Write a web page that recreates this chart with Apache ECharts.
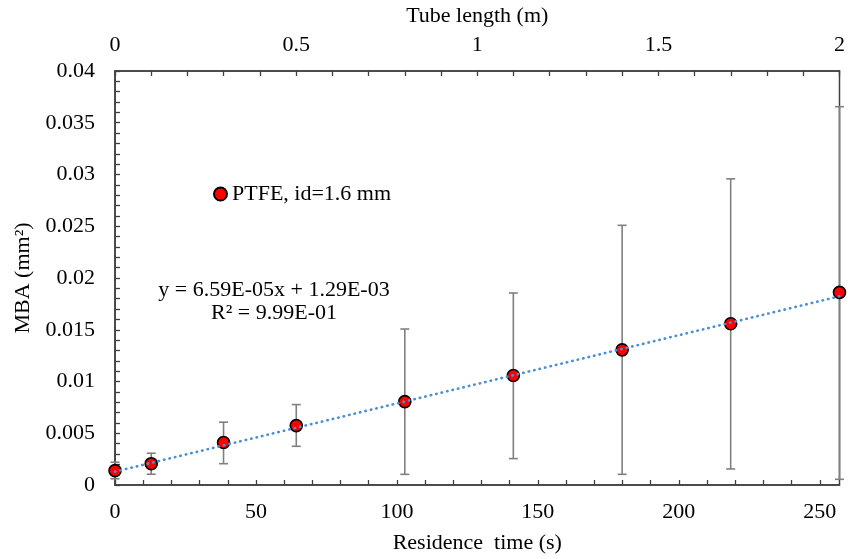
<!DOCTYPE html>
<html>
<head>
<meta charset="utf-8">
<script src="https://cdn.jsdelivr.net/npm/echarts@6/dist/echarts.min.js"></script>
<style>
html,body{margin:0;padding:0;background:#fff;}
#chart{width:848px;height:559px;}
</style>
</head>
<body>
<div id="chart"></div>
<script>
// Data
const residenceTime = [0, 12.85, 38.5, 64.3, 102.8, 141.3, 179.9, 218.4, 257];
const mba = [0.00139, 0.00206, 0.00410, 0.00574, 0.00806, 0.01058, 0.01306, 0.01558, 0.01861];
const errLow = [0.0006, 0.00104, 0.00206, 0.00374, 0.00103, 0.00255, 0.00103, 0.00155, 0.00055];
const errHigh = [0.0022, 0.00307, 0.00607, 0.00777, 0.01507, 0.01855, 0.02509, 0.02958, 0.03655];
const trendX = [0, 257];
const trendY = [0.00129, 0.01823];
const seriesName = 'PTFE, id=1.6 mm';
const equationText = 'y = 6.59E-05x + 1.29E-03';
const r2Text = 'R² = 9.99E-01';
const xTitle = 'Residence  time (s)';
const x2Title = 'Tube length (m)';
const yTitle = 'MBA (mm²)';

const FONT = 'Liberation Serif';
const AXC = '#404040';

const points = residenceTime.map((x, i) => [x, mba[i]]);
const bars = residenceTime.map((x, i) => [x, errLow[i], errHigh[i]]);
const trend = trendX.map((x, i) => [x, trendY[i]]);

const chart = echarts.init(document.getElementById('chart'), null, {renderer: 'canvas'});

const baseAxis = {
  axisLine: {show: true, onZero: false, lineStyle: {color: AXC, width: 1.5}},
  axisTick: {show: true, inside: true, length: 5, lineStyle: {color: AXC, width: 1.3}},
  splitLine: {show: false},
  axisLabel: {color: '#000', fontFamily: FONT, fontSize: 22},
  nameTextStyle: {color: '#000', fontFamily: FONT, fontSize: 22},
  nameLocation: 'middle'
};

const option = {
  animation: false,
  backgroundColor: '#fff',
  grid: {left: 115, right: 8, top: 71, bottom: 74, show: true, borderColor: AXC, borderWidth: 1.5, backgroundColor: 'transparent'},
  legend: {
    left: 208, top: 178,
    itemWidth: 13, itemHeight: 13, itemGap: 5,
    icon: 'circle',
    data: [seriesName],
    textStyle: {color: '#000', fontFamily: FONT, fontSize: 22}
  },
  xAxis: [
    Object.assign({}, baseAxis, {
      type: 'value', position: 'bottom', min: 0, max: 257, interval: 10,
      name: xTitle, nameGap: 47,
      axisLabel: Object.assign({}, baseAxis.axisLabel, {
        margin: 16, showMaxLabel: false,
        formatter: v => (Math.abs(v / 50 - Math.round(v / 50)) < 1e-6) ? String(Math.round(v)) : ''
      })
    }),
    Object.assign({}, baseAxis, {
      type: 'value', position: 'top', min: 0, max: 2, interval: 0.1,
      name: x2Title, nameGap: 44,
      axisLabel: Object.assign({}, baseAxis.axisLabel, {
        margin: 15,
        formatter: v => (Math.abs(v * 2 - Math.round(v * 2)) < 1e-6) ? String(+v.toFixed(1)) : ''
      })
    })
  ],
  yAxis: [
    Object.assign({}, baseAxis, {
      type: 'value', min: 0, max: 0.04, interval: 0.001,
      name: yTitle, nameGap: 80, nameRotate: 90,
      axisLabel: Object.assign({}, baseAxis.axisLabel, {
        margin: 20,
        formatter: v => (Math.abs(v * 200 - Math.round(v * 200)) < 1e-6) ? String(+v.toFixed(3)) : ''
      })
    })
  ],
  series: [
    {
      type: 'custom',
      name: 'err',
      xAxisIndex: 0, yAxisIndex: 0,
      z: 2,
      silent: true,
      encode: {x: 0, y: [1, 2]},
      data: bars,
      renderItem: function (params, api) {
        const x = api.value(0);
        const lo = api.coord([x, api.value(1)]);
        const hi = api.coord([x, api.value(2)]);
        const hw = 4.5;
        const st = {stroke: '#808080', lineWidth: 1.6};
        return {
          type: 'group',
          children: [
            {type: 'line', shape: {x1: lo[0], y1: lo[1], x2: hi[0], y2: hi[1]}, style: st},
            {type: 'line', shape: {x1: lo[0] - hw, y1: lo[1], x2: lo[0] + hw, y2: lo[1]}, style: st},
            {type: 'line', shape: {x1: hi[0] - hw, y1: hi[1], x2: hi[0] + hw, y2: hi[1]}, style: st}
          ]
        };
      }
    },
    {
      type: 'scatter',
      name: seriesName,
      xAxisIndex: 0, yAxisIndex: 0,
      z: 3,
      symbol: 'circle',
      symbolSize: 12,
      itemStyle: {color: '#ff0000', borderColor: '#000', borderWidth: 1.6, opacity: 1},
      data: points
    },
    {
      type: 'line',
      name: 'trend',
      xAxisIndex: 0, yAxisIndex: 0,
      z: 4,
      symbol: 'none',
      silent: true,
      lineStyle: {color: '#4a8fd3', width: 2.6, type: [0.5, 5.1], cap: 'round'},
      data: trend
    }
  ],
  graphic: [
    {
      type: 'text',
      x: 274, y: 279,
      style: {
        text: equationText + '\n' + r2Text,
        fontFamily: FONT, fontSize: 22, fill: '#000',
        align: 'center', verticalAlign: 'top', lineHeight: 23
      }
    }
  ]
};
chart.setOption(option);
</script>
</body>
</html>
